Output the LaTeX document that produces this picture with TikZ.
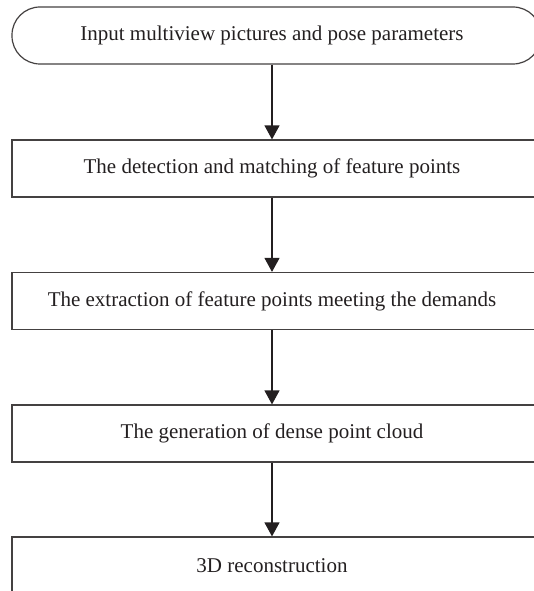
\documentclass[tikz,border=0pt]{standalone}
\usepackage{fontspec}
\setmainfont{Liberation Serif}
\usetikzlibrary{arrows.meta}
\definecolor{ink}{HTML}{231F20}

\begin{document}
\begin{tikzpicture}[x=1pt, y=-1pt, line width=1.2pt,
    font=\fontsize{21}{24}\selectfont, text=ink,
    stepbox/.style={draw=ink!85, minimum width=529pt, minimum height=57pt, inner sep=0pt,
        execute at begin node={\hspace*{-9pt}}}]
\useasboundingbox (0,0) rectangle (533,591);

\node[stepbox, rounded corners=28pt] (s0) at (276.5,35.5) {Input multiview pictures and pose parameters};

\foreach \i/\y/\t in {
    1/168.5/The detection and matching of feature points,
    2/301/The extraction of feature points meeting the demands,
    3/433.5/The generation of dense point cloud,
    4/565.5/3D reconstruction
} {
    \node[stepbox] (s\i) at (276.5,\y) {\t};
}

% connectors sit a little left of the box centres
\foreach \i [count=\j from 1] in {0,...,3}
    \draw[ink, -{Triangle[length=14pt, width=15pt]}] ([xshift=-4.5pt]s\i.south) -- ([xshift=-4.5pt]s\j.north);

\end{tikzpicture}
\end{document}
